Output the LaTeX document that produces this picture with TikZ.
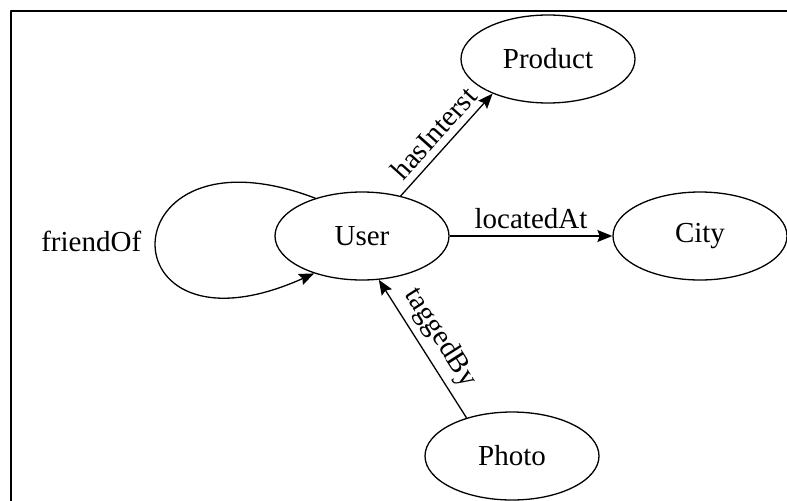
\documentclass[tikz,border=0pt]{standalone}
\usepackage{fontspec}
\setmainfont{Liberation Serif}
\usetikzlibrary{arrows.meta,shapes.geometric}
\begin{document}
\begin{tikzpicture}[x=0.5pt,y=0.5pt,>={Stealth[length=7.5pt,width=6pt,inset=1.2pt]},line join=round,
	font=\fontsize{14.5}{17}\selectfont,
	entity/.style={draw,ellipse,line width=0.65pt,minimum width=87pt,minimum height=44pt,inner sep=0pt},
	rel/.style={->,line width=0.65pt}]
		\useasboundingbox (0,0) rectangle (787,500);
		\clip (0,0) rectangle (787,500);
		\draw[line width=1.4pt] (11,489) rectangle (820,-30);
		\node[entity] (user) at (362,264) {User};
		\node[entity] (product) at (548,441) {Product};
		\node[entity] (city) at (700,264) {City};
		\node[entity] (photo) at (512,44) {Photo};
		\draw[rel] (user.46)--(product.212) node[midway,above,sloped]{hasInterst};
		\draw[rel] (user.east)--(city.west) node[midway,above]{locatedAt};
		\draw[rel] (photo.140)--(user.291) node[midway,above,sloped]{taggedBy};
		\draw[rel] (user.141) .. controls +(-210,80) and +(-212,-95) .. (user.218)
			node[pos=0.5,left=4pt]{friendOf};
\end{tikzpicture}
\end{document}
